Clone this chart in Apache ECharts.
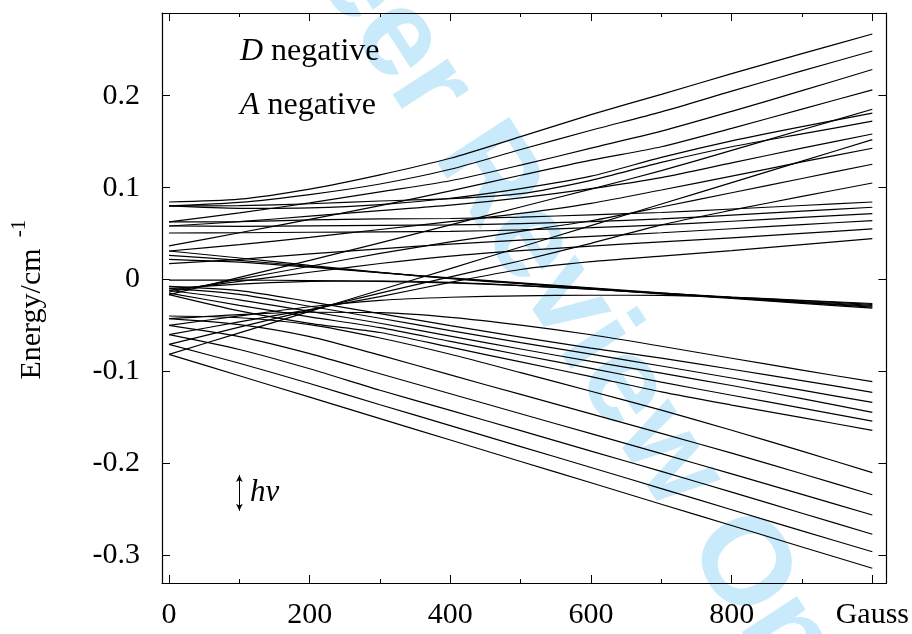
<!DOCTYPE html>
<html><head><meta charset="utf-8">
<script src="https://cdn.jsdelivr.net/npm/echarts@6/dist/echarts.min.js"></script>
<style>html,body{margin:0;padding:0;background:#fff}#c{width:912px;height:634px}</style>
</head><body><div id="c"></div>
<script>
// ---- axis ticks / labels ----
const xMajorTicks = [0, 200, 400, 600, 800, 1000];
const xMinorTicks = [100, 300, 500, 700, 900];
const xTickLabels = ['0', '200', '400', '600', '800', 'Gauss'];
const yTicks = [-0.3, -0.2, -0.1, 0, 0.1, 0.2];
const yTickLabels = ['-0.3', '-0.2', '-0.1', '0', '0.1', '0.2'];

// ---- magnetic field samples (Gauss) ----
const fieldGauss = [0, 100, 200, 300, 400, 500, 600, 700, 800, 900, 1000];

// ---- energy levels (cm^-1) read at fieldGauss, grouped by high-field mS ----
const levelsMinus52 = [
  [-0.0813,-0.1046,-0.1279,-0.1512,-0.1745,-0.1978,-0.2210,-0.2443,-0.2675,-0.2908,-0.3140],
  [-0.0704,-0.0910,-0.1130,-0.1361,-0.1588,-0.1816,-0.2044,-0.2273,-0.2503,-0.2733,-0.2960],
  [-0.0599,-0.0760,-0.0970,-0.1203,-0.1422,-0.1643,-0.1866,-0.2086,-0.2312,-0.2541,-0.2770],
  [-0.0497,-0.0620,-0.0805,-0.1024,-0.1242,-0.1459,-0.1676,-0.1893,-0.2113,-0.2336,-0.2560],
  [-0.0425,-0.0490,-0.0620,-0.0822,-0.1037,-0.1249,-0.1461,-0.1672,-0.1888,-0.2112,-0.2340],
  [-0.0396,-0.0415,-0.0490,-0.0635,-0.0812,-0.1012,-0.1214,-0.1420,-0.1638,-0.1865,-0.2100]
];
const levelsMinus32 = [
  [-0.0425,-0.0380,-0.0355,-0.0360,-0.0410,-0.0495,-0.0600,-0.0725,-0.0855,-0.0985,-0.1110],
  [-0.0073,-0.0120,-0.0240,-0.0370,-0.0500,-0.0625,-0.0745,-0.0855,-0.0975,-0.1098,-0.1226],
  [-0.0095,-0.0160,-0.0290,-0.0420,-0.0555,-0.0685,-0.0810,-0.0940,-0.1070,-0.1203,-0.1335],
  [-0.0116,-0.0220,-0.0345,-0.0475,-0.0615,-0.0755,-0.0890,-0.1018,-0.1152,-0.1295,-0.1444],
  [-0.0146,-0.0280,-0.0405,-0.0523,-0.0672,-0.0820,-0.0965,-0.1115,-0.1258,-0.1398,-0.1539],
  [-0.0163,-0.0340,-0.0475,-0.0575,-0.0735,-0.0895,-0.1055,-0.1222,-0.1365,-0.1502,-0.1640]
];
const levelsMinus12 = [
  [-0.0497,-0.0395,-0.0295,-0.0225,-0.0192,-0.0176,-0.0170,-0.0172,-0.0192,-0.0225,-0.0260],
  [-0.0095,-0.0050,-0.0020,-0.0015,-0.0030,-0.0065,-0.0105,-0.0148,-0.0190,-0.0230,-0.0270],
  [-0.0005,-0.0005,-0.0010,-0.0020,-0.0035,-0.0065,-0.0105,-0.0150,-0.0195,-0.0238,-0.0280],
  [0.0221,0.0190,0.0135,0.0075,0.0020,-0.0035,-0.0090,-0.0145,-0.0195,-0.0245,-0.0290],
  [0.0264,0.0210,0.0145,0.0075,0.0015,-0.0040,-0.0095,-0.0150,-0.0200,-0.0250,-0.0300],
  [0.0311,0.0235,0.0155,0.0080,0.0010,-0.0045,-0.0100,-0.0155,-0.0205,-0.0258,-0.0310]
];
const levelsPlus12 = [
  [0.0627,0.0630,0.0650,0.0660,0.0665,0.0680,0.0705,0.0730,0.0768,0.0806,0.0844],
  [0.0583,0.0580,0.0585,0.0590,0.0595,0.0610,0.0630,0.0660,0.0702,0.0745,0.0787],
  [0.0507,0.0510,0.0515,0.0520,0.0525,0.0540,0.0565,0.0595,0.0635,0.0677,0.0718],
  [0.0174,0.0220,0.0280,0.0335,0.0385,0.0430,0.0470,0.0510,0.0553,0.0598,0.0642],
  [-0.0116,-0.0020,0.0080,0.0175,0.0255,0.0315,0.0365,0.0410,0.0455,0.0503,0.0551],
  [-0.0599,-0.0460,-0.0325,-0.0185,-0.0030,0.0110,0.0195,0.0255,0.0315,0.0380,0.0446]
];
const levelsPlus32 = [
  [0.0801,0.0775,0.0780,0.0815,0.0885,0.0990,0.1125,0.1330,0.1510,0.1665,0.1810],
  [0.0801,0.0805,0.0825,0.0855,0.0880,0.0935,0.1080,0.1275,0.1445,0.1585,0.1723],
  [0.0583,0.0630,0.0690,0.0750,0.0810,0.0890,0.0990,0.1110,0.1270,0.1430,0.1584],
  [0.0311,0.0380,0.0460,0.0545,0.0630,0.0720,0.0830,0.0975,0.1125,0.1280,0.1429],
  [-0.0135,0.0005,0.0145,0.0285,0.0410,0.0525,0.0640,0.0790,0.0945,0.1100,0.1255],
  [-0.0704,-0.0517,-0.0332,-0.0147,0.0030,0.0205,0.0395,0.0595,0.0755,0.0905,0.1051]
];
const levelsPlus52 = [
  [0.0844,0.0875,0.0985,0.1140,0.1320,0.1555,0.1795,0.2015,0.2240,0.2458,0.2672],
  [0.0801,0.0840,0.0925,0.1040,0.1200,0.1415,0.1625,0.1825,0.2050,0.2270,0.2487],
  [0.0627,0.0725,0.0835,0.0955,0.1075,0.1245,0.1430,0.1615,0.1830,0.2055,0.2285],
  [0.0366,0.0510,0.0655,0.0805,0.0965,0.1135,0.1300,0.1445,0.1645,0.1855,0.2063],
  [-0.0163,0.0024,0.0210,0.0400,0.0595,0.0790,0.0985,0.1185,0.1405,0.1630,0.1853],
  [-0.0813,-0.0580,-0.0346,-0.0113,0.0120,0.0355,0.0588,0.0822,0.1055,0.1289,0.1523]
];
// photon energy marker (hv): field position and energy span
const hvField = 100;
const hvEnergies = [-0.2125, -0.2515];

const allLevels = [].concat(levelsMinus52, levelsMinus32, levelsMinus12, levelsPlus12, levelsPlus32, levelsPlus52);

const serif = 'Liberation Serif';
const series = allLevels.map((vals) => ({
  type: 'line', data: vals.map((e, i) => [fieldGauss[i], e]), xAxisIndex: 0, yAxisIndex: 0,
  showSymbol: false, symbol: 'none', smooth: 0.25,
  lineStyle: { color: '#000', width: 1.2 }, silent: true, z: 3
}));
series.push({
  type: 'line', data: [], xAxisIndex: 0, yAxisIndex: 0, symbol: 'none', silent: true, z: 3,
  markLine: {
    silent: true, symbol: ['arrow', 'arrow'], symbolSize: [5, 7], animation: false,
    label: { show: false },
    lineStyle: { color: '#000', width: 1, type: 'solid' },
    data: [[{ coord: [hvField, hvEnergies[0]] }, { coord: [hvField, hvEnergies[1]] }]]
  }
});

const xBase = { type: 'value', min: -10, max: 1020, gridIndex: 0, splitLine: { show: false } };
const yBase = { type: 'value', min: -0.33, max: 0.29, gridIndex: 0, splitLine: { show: false } };
const lineSt = { show: true, onZero: false, lineStyle: { color: '#000', width: 1.2 } };
const noLine = { show: false, onZero: false };
const tick = (vals, len) => ({ show: true, inside: true, length: len, customValues: vals, lineStyle: { color: '#000', width: 1 } });

const option = {
  animation: false,
  backgroundColor: '#fff',
  grid: { left: 162, right: 8, top: 13, bottom: 51, containLabel: false },
  xAxis: [
    Object.assign({}, xBase, { position: 'bottom', axisLine: lineSt, axisTick: tick(xMajorTicks, 8),
      axisLabel: { show: true, customValues: xMajorTicks, margin: 17, color: '#000', fontFamily: serif, fontSize: 30,
        formatter: v => xTickLabels[xMajorTicks.indexOf(Math.round(v))] } }),
    Object.assign({}, xBase, { position: 'bottom', axisLine: noLine, axisTick: tick(xMinorTicks, 4), axisLabel: { show: false } }),
    Object.assign({}, xBase, { position: 'top', axisLine: lineSt, axisTick: tick(xMajorTicks, 8), axisLabel: { show: false } }),
    Object.assign({}, xBase, { position: 'top', axisLine: noLine, axisTick: tick(xMinorTicks, 4), axisLabel: { show: false } })
  ],
  yAxis: [
    Object.assign({}, yBase, { position: 'left', axisLine: lineSt, axisTick: tick(yTicks, 8),
      axisLabel: { show: true, customValues: yTicks, margin: 22, color: '#000', fontFamily: serif, fontSize: 30,
        formatter: v => { const k = yTicks.findIndex(t => Math.abs(t - v) < 1e-6); return k >= 0 ? yTickLabels[k] : ''; } } }),
    Object.assign({}, yBase, { position: 'right', axisLine: lineSt, axisTick: tick(yTicks, 8), axisLabel: { show: false } })
  ],
  graphic: [
    { type: 'text', x: 580, y: 320, rotation: -57 * Math.PI / 180, z: -10, silent: true,
      style: { text: 'Peer Review Only', fontFamily: 'Liberation Sans', fontWeight: 'bold', fontSize: 124,
        fill: '#c9eafa', align: 'center', verticalAlign: 'middle' } },
    { type: 'text', x: 32, y: 314, rotation: Math.PI / 2, z: 10, silent: true,
      style: { text: 'Energy/cm', fontFamily: serif, fontSize: 30, fill: '#000', align: 'center', verticalAlign: 'middle' } },
    { type: 'text', x: 19, y: 228.5, rotation: Math.PI / 2, z: 10, silent: true,
      style: { text: '-1', fontFamily: serif, fontSize: 21, fill: '#000', align: 'center', verticalAlign: 'middle' } },
    { type: 'text', x: 240, y: 52, z: 10, silent: true,
      style: { text: '{i|D} negative', fontFamily: serif, fontSize: 32, fill: '#000', align: 'left', verticalAlign: 'middle',
        rich: { i: { fontFamily: serif, fontSize: 32, fontStyle: 'italic', fill: '#000' } } } },
    { type: 'text', x: 240, y: 106, z: 10, silent: true,
      style: { text: '{i|A} negative', fontFamily: serif, fontSize: 32, fill: '#000', align: 'left', verticalAlign: 'middle',
        rich: { i: { fontFamily: serif, fontSize: 32, fontStyle: 'italic', fill: '#000' } } } },
    { type: 'text', x: 250, y: 493, z: 10, silent: true,
      style: { text: 'hν', fontFamily: serif, fontSize: 31, fontStyle: 'italic', fill: '#000', align: 'left', verticalAlign: 'middle' } }
  ],
  series: series
};
const chart = echarts.init(document.getElementById('c'));
chart.setOption(option);
</script>
</body></html>
